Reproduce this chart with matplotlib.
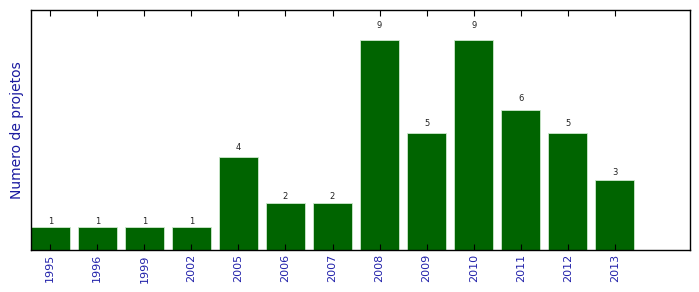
import matplotlib
matplotlib.use("Agg")
import matplotlib.pyplot as plt
import numpy as np

years = ["1995", "1996", "1999", "2002", "2005", "2006", "2007", "2008", "2009", "2010", "2011", "2012", "2013"]
counts = [1, 1, 1, 1, 4, 2, 2, 9, 5, 9, 6, 5, 3]

fig = plt.figure(figsize=(6.99, 2.92), dpi=100, facecolor="white")
ax = fig.add_axes([31/699, 42/292, 659/699, 240/292])
x = np.arange(len(years))
bars = ax.bar(x, counts, width=0.82, color="#006400", edgecolor="#cde8cd", linewidth=0.6)
for xi, c in zip(x, counts):
    ax.text(xi, c * 1.05, str(c), ha="center", va="bottom", fontsize=6, color="#222222")
ax.set_xlim(-0.41, 13.6)
ax.set_ylim(0, 10.3)
ax.set_xticks(x)
ax.set_xticklabels(years, rotation=90, fontsize=8, color="#2222aa")
ax.set_yticks([])
ax.tick_params(axis="x", direction="in", length=4, top=True, bottom=True, width=0.8, pad=3)
ax.set_ylabel("Numero de projetos", fontsize=10, color="#1a1aa0", labelpad=5)
for s in ax.spines.values():
    s.set_linewidth(1.0)
fig.savefig("out.png", dpi=100, facecolor="white")
